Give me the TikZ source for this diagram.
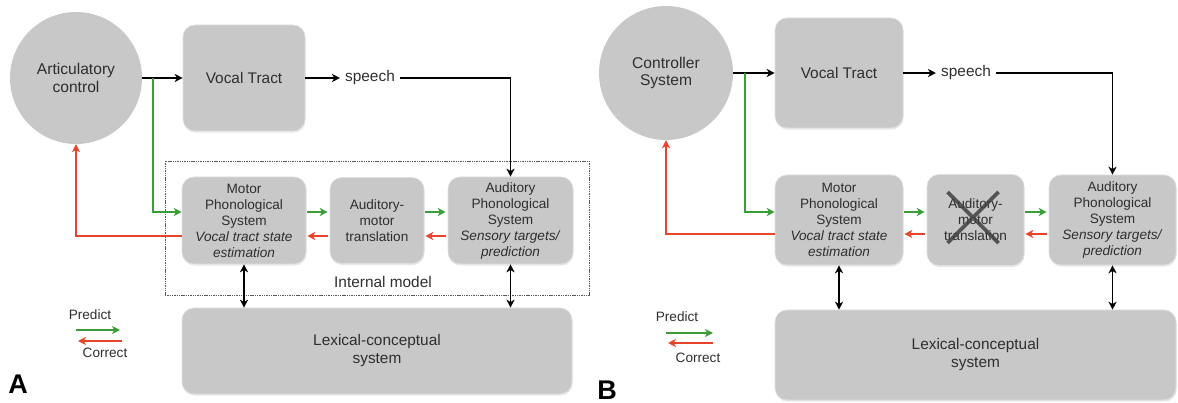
\documentclass[tikz,border=0pt]{standalone}
\usepackage{fontspec}
\setmainfont{Liberation Sans}
\usepackage{tikz}
\usetikzlibrary{arrows.meta,shadows}
\definecolor{boxgray}{HTML}{C8C8C8}
\definecolor{txtgray}{HTML}{2E2E2E}
\definecolor{predgreen}{HTML}{3A9D3A}
\definecolor{corrred}{HTML}{E8442C}

\begin{document}
\begin{tikzpicture}[x=1pt,y=-1pt,text=txtgray]
      \tikzstyle{blk}=[rounded corners=12pt,fill=boxgray,draw=gray!25,line width=0.6pt,align=center,inner sep=2pt,
        font=\fontsize{13.6}{16}\selectfont,drop shadow={shadow xshift=0.6pt,shadow yshift=-1.6pt,opacity=0.18}]
      \tikzstyle{ctl}=[circle,fill=boxgray,align=center,inner sep=0pt,font=\fontsize{15.6}{17.5}\selectfont]
      \tikzstyle{big}=[font=\fontsize{15.4}{18}\selectfont]
      \tikzstyle{lgd}=[font=\fontsize{13.6}{16}\selectfont]
      \tikzstyle{imbox}=[draw=txtgray!80,line width=0.8pt,dash pattern=on 1.4pt off 0.9pt]
      \tikzstyle{fwd}=[-{Stealth[length=2.8mm,width=2.8mm,inset=0.8mm]},line width=1.9pt,black]
      \tikzstyle{pred}=[-{Stealth[length=2.8mm,width=2.8mm,inset=0.8mm]},line width=1.9pt,predgreen]
      \tikzstyle{corr}=[-{Stealth[length=2.8mm,width=2.8mm,inset=0.8mm]},line width=1.9pt,corrred]
      \tikzstyle{twoway}=[{Stealth[length=2.8mm,width=2.8mm,inset=0.8mm]}-{Stealth[length=2.8mm,width=2.8mm,inset=0.8mm]},line width=1.9pt,black]
      \useasboundingbox (0,0) rectangle (1178,403);

      % panel A
      \node[imbox,minimum width=424pt,minimum height=134pt] (imA) at (377,228) {};
      \node[big] (imlabA) at (383,282) {Internal model};
      \node[ctl,minimum size=132pt] (ctrlA) at (76,78) {Articulatory\\control};
      \node[blk,minimum width=122pt,minimum height=106pt,big] (vtA) at (244,78) {Vocal Tract};
      \node[big,inner sep=5pt] (speechA) at (370,78) {speech};
      \node[blk,minimum width=124pt,minimum height=87pt] (mpsA) at (244,220.5)
        {Motor\\Phonological\\System\\\textit{Vocal tract state}\\\textit{estimation}};
      \node[blk,minimum width=94pt,minimum height=86pt] (amtA) at (377,220.5) {Auditory-\\motor\\translation};
      \node[blk,minimum width=125pt,minimum height=87pt] (apsA) at (510.5,220.5)
        {Auditory\\Phonological\\System\\\textit{Sensory targets/}\\\textit{prediction}};
      \node[blk,minimum width=390pt,minimum height=86pt,big] (lexA) at (377,351) {Lexical-conceptual\\system};
      \coordinate (brA) at (153,78);
      \draw[fwd] (ctrlA.east) -- (vtA.west);
      \draw[pred] (brA) |- ([yshift=8.5pt]mpsA.west);
      \draw[corr] ([yshift=-15.5pt]mpsA.west) -| (ctrlA.south);
      \draw[fwd] (vtA.east) -- (speechA.west);
      \draw[fwd] (speechA.east) -| (apsA.north);
      \draw[pred,shorten <=1pt,shorten >=2pt] ([yshift=8.5pt]mpsA.east) -- ([yshift=8.5pt]amtA.west);
      \draw[corr,shorten <=2pt,shorten >=1pt] ([yshift=-15.5pt]amtA.west) -- ([yshift=-15.5pt]mpsA.east);
      \draw[pred,shorten <=1pt,shorten >=2pt] ([yshift=8.5pt]amtA.east) -- ([yshift=8.5pt]apsA.west);
      \draw[corr,shorten <=2pt,shorten >=1pt] ([yshift=-15.5pt]apsA.west) -- ([yshift=-15.5pt]amtA.east);
      \draw[twoway] (mpsA.south) -- (mpsA.south |- lexA.north);
      \draw[twoway] (apsA.south) -- (apsA.south |- lexA.north);
      \node[lgd] (prA) at (90,315) {Predict};
      \coordinate (pgA1) at (76,330);
      \coordinate (pgA2) at (120,330);
      \coordinate (pcA1) at (122,341);
      \coordinate (pcA2) at (78,341);
      \draw[pred] (pgA1) -- (pgA2);
      \draw[corr] (pcA1) -- (pcA2);
      \node[lgd] (crA) at (105,353) {Correct};
      \node[font=\fontsize{27}{27}\bfseries\selectfont,text=black] (labA) at (18,384) {A};

      % panel B
      \node[ctl,minimum size=134pt] (ctrlB) at (666,73) {Controller\\System};
      \node[blk,minimum width=128pt,minimum height=110pt,big] (vtB) at (839,73) {Vocal Tract};
      \node[big,inner sep=5pt] (speechB) at (966,73) {speech};
      \node[blk,minimum width=128pt,minimum height=90pt] (mpsB) at (839,220)
        {Motor\\Phonological\\System\\\textit{Vocal tract state}\\\textit{estimation}};
      \node[blk,minimum width=97pt,minimum height=91pt] (amtB) at (975.5,220) {Auditory-\\motor\\translation};
      \node[blk,minimum width=127pt,minimum height=90pt] (apsB) at (1112.5,220)
        {Auditory\\Phonological\\System\\\textit{Sensory targets/}\\\textit{prediction}};
      \node[blk,minimum width=401pt,minimum height=90pt,big] (lexB) at (975.5,355) {Lexical-conceptual\\system};
      \draw[line width=3.8pt,black!75,opacity=0.85] (amtB.center) ++(-28,-28) -- ++(51,51)
        (amtB.center) ++(23,-28) -- ++(-51,51);
      \coordinate (brB) at (745,73);
      \draw[fwd] (ctrlB.east) -- (vtB.west);
      \draw[pred] (brB) |- ([yshift=8pt]mpsB.west);
      \draw[corr] ([yshift=-14pt]mpsB.west) -| (ctrlB.south);
      \draw[fwd] (vtB.east) -- (speechB.west);
      \draw[fwd] (speechB.east) -| (apsB.north);
      \draw[pred,shorten <=1pt,shorten >=2pt] ([yshift=8pt]mpsB.east) -- ([yshift=8pt]amtB.west);
      \draw[corr,shorten <=2pt,shorten >=1pt] ([yshift=-14pt]amtB.west) -- ([yshift=-14pt]mpsB.east);
      \draw[pred,shorten <=1pt,shorten >=2pt] ([yshift=8pt]amtB.east) -- ([yshift=8pt]apsB.west);
      \draw[corr,shorten <=2pt,shorten >=1pt] ([yshift=-14pt]apsB.west) -- ([yshift=-14pt]amtB.east);
      \draw[twoway] (mpsB.south) -- (mpsB.south |- lexB.north);
      \draw[twoway] (apsB.south) -- (apsB.south |- lexB.north);
      \node[lgd] (prB) at (677,317) {Predict};
      \coordinate (pgB1) at (666,333);
      \coordinate (pgB2) at (713,333);
      \coordinate (pcB1) at (713,343);
      \coordinate (pcB2) at (668,343);
      \draw[pred] (pgB1) -- (pgB2);
      \draw[corr] (pcB1) -- (pcB2);
      \node[lgd] (crB) at (698,358) {Correct};
      \node[font=\fontsize{27}{27}\bfseries\selectfont,text=black] (labB) at (607,390) {B};
    \end{tikzpicture}
\end{document}
